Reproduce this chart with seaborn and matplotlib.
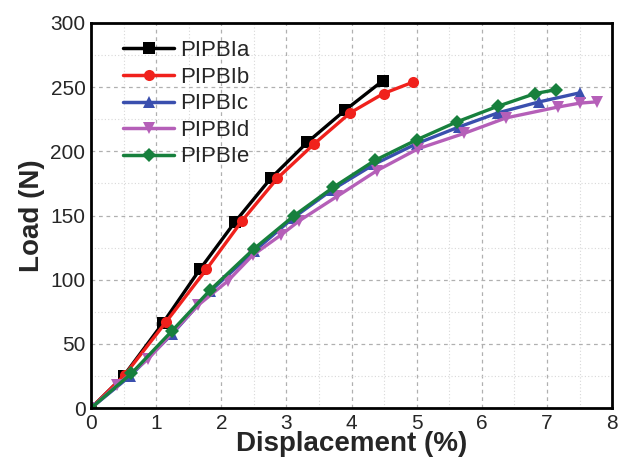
import numpy as np
import pandas as pd
import matplotlib
matplotlib.use('Agg')
import matplotlib.pyplot as plt
import seaborn as sns
from matplotlib.ticker import MultipleLocator

# Data
names = ['PIPBIa', 'PIPBIb', 'PIPBIc', 'PIPBId', 'PIPBIe']

x_a = [0, 0.5, 1.10, 1.67, 2.21, 2.76, 3.32, 3.90, 4.48]
y_a = [0, 25, 66, 108, 145, 179, 207, 232, 255]

x_b = [0, 0.52, 1.15, 1.77, 2.32, 2.86, 3.43, 3.98, 4.49, 4.95]
y_b = [0, 26, 67, 108, 146, 179, 206, 230, 245, 254]

x_c = [0, 0.6, 1.25, 1.83, 2.5, 3.1, 3.7, 4.35, 5.0, 5.65, 6.25, 6.88, 7.5]
y_c = [0, 25, 58, 91, 122, 148, 170, 190, 206, 219, 230, 238.5, 245.5]

x_d = [0, 0.4, 0.87, 1.64, 2.1, 2.48, 2.92, 3.2, 3.78, 4.39, 5.02, 5.73, 6.37, 7.17, 7.5, 7.76]
y_d = [0, 18, 38, 80, 99, 119, 135, 146, 165, 185, 202, 214, 226, 234.5, 237.5, 238.5]

x_e = [0, 0.62, 1.24, 1.83, 2.5, 3.12, 3.72, 4.36, 5.0, 5.62, 6.24, 6.82, 7.14]
y_e = [0, 27, 60, 92, 124, 150, 172, 193, 209, 223, 235, 245, 248]

xs = [x_a, x_b, x_c, x_d, x_e]
ys = [y_a, y_b, y_c, y_d, y_e]

frames = []
for n, xv, yv in zip(names, xs, ys):
    frames.append(pd.DataFrame({'Displacement': xv, 'Load': yv, 'Sample': n}))
df = pd.concat(frames, ignore_index=True)

palette = {'PIPBIa': '#000000', 'PIPBIb': '#f0211c', 'PIPBIc': '#3a4fae',
           'PIPBId': '#b55fb8', 'PIPBIe': '#17803d'}
markers = {'PIPBIa': 's', 'PIPBIb': 'o', 'PIPBIc': '^', 'PIPBId': 'v', 'PIPBIe': 'D'}

sns.set_style('white')
plt.rcParams['font.family'] = ['Liberation Sans', 'DejaVu Sans']

fig = plt.figure(figsize=(6.19, 4.67), dpi=100)
ax = fig.add_axes([0.147, 0.126, 0.842, 0.825])

sns.lineplot(data=df, x='Displacement', y='Load', hue='Sample', style='Sample',
             palette=palette, markers=markers, dashes=False, sort=False,
             estimator=None, linewidth=2.4, markersize=8, markeredgewidth=0,
             ax=ax)

# diamonds look bigger than the others at the same size
for line in ax.get_lines():
    if line.get_marker() == 'D':
        line.set_markersize(7)

ax.set_xlim(0, 8)
ax.set_ylim(0, 300)
ax.xaxis.set_major_locator(MultipleLocator(1))
ax.xaxis.set_minor_locator(MultipleLocator(0.5))
ax.yaxis.set_major_locator(MultipleLocator(50))
ax.yaxis.set_minor_locator(MultipleLocator(25))

ax.grid(True, which='major', color='#b0b0b0', linestyle=(0, (3, 3)), linewidth=0.9)
ax.grid(True, which='minor', color='#d8d8d8', linestyle=(0, (1, 2)), linewidth=0.8)
ax.set_axisbelow(True)

for sp in ax.spines.values():
    sp.set_linewidth(2)
    sp.set_color('black')

ax.tick_params(which='major', direction='in', length=6, width=2,
               labelsize=15, pad=4, top=False, right=False)
ax.tick_params(which='minor', direction='in', length=4, width=2,
               top=False, right=False)

ax.set_xlabel('Displacement (%)', fontsize=20, fontweight='bold', labelpad=-1)
ax.set_ylabel('Load (N)', fontsize=20, fontweight='bold', labelpad=4)

leg = ax.legend(loc='upper left', bbox_to_anchor=(0.045, 0.978), frameon=False,
                fontsize=16, handlelength=2.3, handletextpad=0.25,
                labelspacing=0.25, borderaxespad=0.0)
for h in leg.legend_handles:
    h.set_linewidth(2.5)

fig.savefig('out.png', dpi=100)
